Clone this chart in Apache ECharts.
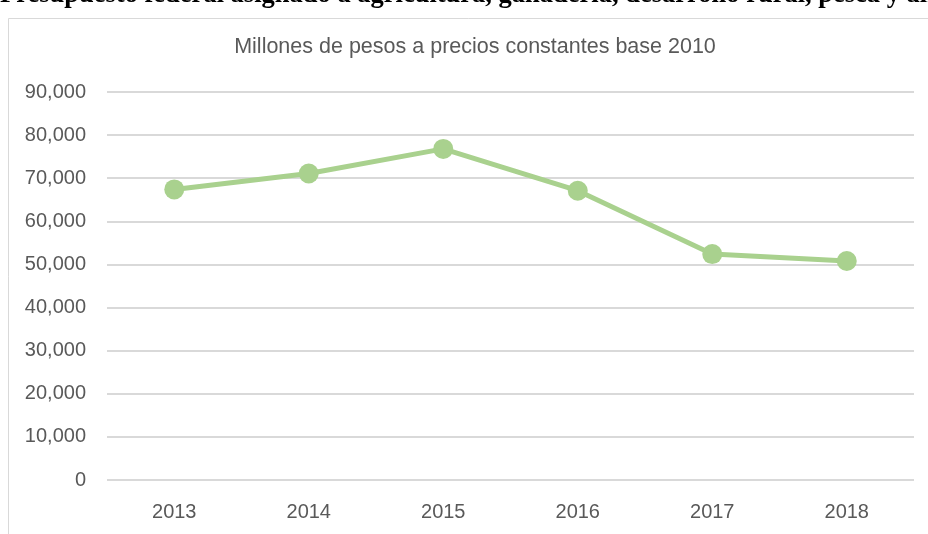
<!DOCTYPE html>
<html>
<head>
<meta charset="utf-8">
<script src="https://cdn.jsdelivr.net/npm/echarts@6/dist/echarts.min.js"></script>
<style>
  html, body { margin: 0; padding: 0; background: #fff; }
  #chart { width: 928px; height: 534px; }
</style>
</head>
<body>
<div id="chart"></div>
<script>
// años y presupuesto (millones de pesos, base 2010)
const years = ['2013', '2014', '2015', '2016', '2017', '2018'];
const presupuesto = [67400, 71100, 76800, 67100, 52400, 50800];

const chart = echarts.init(document.getElementById('chart'));

const options = {
    animation: false,
    backgroundColor: '#fff',
    title: [
        {
            text: 'Presupuesto federal asignado a agricultura, ganadería, desarrollo rural, pesca y alimentación',
            left: 0,
            top: -18,
            padding: 0,
            textStyle: {
                fontFamily: 'Liberation Serif',
                fontWeight: 'bold',
                fontSize: 26.5,
                color: '#000',
            },
        },
        {
            text: 'Millones de pesos a precios constantes base 2010',
            left: 475,
            textAlign: 'center',
            top: 36,
            padding: 0,
            textStyle: {
                fontFamily: 'Liberation Sans',
                fontWeight: 'normal',
                fontSize: 21.5,
                color: '#595959',
            },
        },
    ],
    graphic: [
        {
            type: 'rect',
            shape: { x: 8.5, y: 18.5, width: 940, height: 540 },
            style: { fill: 'none', stroke: '#d9d9d9', lineWidth: 1 },
            silent: true,
        },
    ],
    grid: {
        left: 107,
        right: 14,
        top: 92,
        bottom: 54,
    },
    xAxis: {
        type: 'category',
        data: years,
        boundaryGap: true,
        axisLine: { show: false },
        axisTick: { show: false },
        axisLabel: {
            margin: 22,
            fontFamily: 'Liberation Sans',
            fontSize: 20,
            color: '#595959',
        },
    },
    yAxis: {
        type: 'value',
        min: 0,
        max: 90000,
        interval: 10000,
        axisLine: { show: false },
        axisTick: { show: false },
        splitLine: { lineStyle: { color: '#d9d9d9', width: 2 } },
        axisLabel: {
            margin: 21,
            fontFamily: 'Liberation Sans',
            fontSize: 20,
            color: '#595959',
            formatter: (v) => v.toLocaleString('en-US'),
        },
    },
    series: [
        {
            type: 'line',
            data: presupuesto,
            symbol: 'circle',
            symbolSize: 20,
            lineStyle: { color: '#a9d18e', width: 5 },
            itemStyle: { color: '#a9d18e' },
        },
    ],
};

chart.setOption(options);
</script>
</body>
</html>
